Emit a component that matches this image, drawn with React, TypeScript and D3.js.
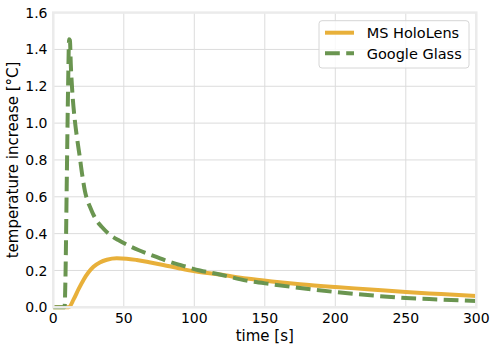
import React from "react";
import * as d3 from "d3";

// MS HoloLens (solid orange)
const holoTime = [0, 11, 14.4, 18, 21.5, 25, 28.5, 33, 38, 45, 52, 59.2, 68, 78, 89, 100.5, 118, 137, 155, 175, 200, 225, 250, 275, 300];
const holoTemp = [0, 0, 0.043, 0.1, 0.15, 0.19, 0.22, 0.243, 0.258, 0.266, 0.264, 0.257, 0.245, 0.23, 0.212, 0.195, 0.178, 0.156, 0.14, 0.125, 0.11, 0.097, 0.083, 0.072, 0.061];

// Google Glass (dashed green)
const glassTime = [0, 8, 8.6, 9.5, 10.5, 11.2, 11.8, 12.4, 13.4, 15.2, 17, 18.7, 20.5, 22.5, 24.2, 26, 28, 30, 34.3, 40, 46.1, 53, 60.3, 68, 75.7, 82, 89.9, 104, 118, 137, 155, 175, 200, 225, 250, 275, 300];
const glassTemp = [0, 0, 0.15, 0.65, 1.2, 1.455, 1.45, 1.32, 1.18, 1.02, 0.91, 0.82, 0.72, 0.628, 0.58, 0.546, 0.51, 0.48, 0.437, 0.395, 0.365, 0.337, 0.311, 0.288, 0.266, 0.248, 0.23, 0.2, 0.178, 0.145, 0.125, 0.105, 0.083, 0.065, 0.05, 0.042, 0.034];

const xTicks = [0, 50, 100, 150, 200, 250, 300];
const yTicks = [0, 0.2, 0.4, 0.6, 0.8, 1.0, 1.2, 1.4, 1.6];

const seriesNames = ["MS HoloLens", "Google Glass"];
const colors = ["#e8b03a", "#6a9550"];

const width = 498;
const height = 353;
const plot = { left: 53.3, right: 476.3, top: 12.6, bottom: 307.3 };
const font = "DejaVu Sans, sans-serif";

export default function App() {
  const x = d3.scaleLinear().domain([0, 300]).range([plot.left, plot.right]);
  const y = d3.scaleLinear().domain([0, 1.6]).range([plot.bottom, plot.top]);

  const line = d3
    .line<[number, number]>()
    .x((d) => x(d[0]))
    .y((d) => y(d[1]))
    .curve(d3.curveMonotoneX);

  const holo = holoTime.map((t, i) => [t, holoTemp[i]] as [number, number]);
  const glass = glassTime.map((t, i) => [t, glassTemp[i]] as [number, number]);

  const legendX = 319;
  const legendY = 20.7;

  return (
    <svg
      width={width}
      height={height}
      style={{ position: "absolute", left: 0, top: 0, background: "#fff" }}
      fontFamily={font}
    >
      {/* grid */}
      <g stroke="#dcdcdc" strokeWidth={1}>
        {xTicks.map((t) => (
          <line key={"gx" + t} x1={x(t)} x2={x(t)} y1={plot.top} y2={plot.bottom} />
        ))}
        {yTicks.map((t) => (
          <line key={"gy" + t} x1={plot.left} x2={plot.right} y1={y(t)} y2={y(t)} />
        ))}
      </g>

      {/* series */}
      <path d={line(holo) ?? ""} fill="none" stroke={colors[0]} strokeWidth={4} />
      <path
        d={line(glass) ?? ""}
        fill="none"
        stroke={colors[1]}
        strokeWidth={4}
        strokeDasharray="14.8 6.4"
      />

      {/* frame */}
      <rect
        x={plot.left}
        y={plot.top}
        width={plot.right - plot.left}
        height={plot.bottom - plot.top}
        fill="none"
        stroke="#ebebeb"
        strokeWidth={2.5}
      />

      {/* tick labels */}
      <g fontSize={14} fill="#000">
        {xTicks.map((t) => (
          <text key={"tx" + t} x={x(t)} y={323} textAnchor="middle">
            {t}
          </text>
        ))}
        {yTicks.map((t) => (
          <text key={"ty" + t} x={47.5} y={y(t)} dy="0.36em" textAnchor="end">
            {t.toFixed(1)}
          </text>
        ))}
      </g>

      {/* axis labels */}
      <text x={(plot.left + plot.right) / 2} y={341} textAnchor="middle" fontSize={15}>
        time [s]
      </text>
      <text
        transform={`translate(18, ${(plot.top + plot.bottom) / 2}) rotate(-90)`}
        textAnchor="middle"
        fontSize={15}
      >
        temperature increase [°C]
      </text>

      {/* legend */}
      <rect
        x={legendX}
        y={legendY}
        width={150}
        height={47.3}
        rx={3}
        fill="#fff"
        fillOpacity={0.8}
        stroke="#d6d6d6"
        strokeWidth={1}
      />
      {seriesNames.map((name, i) => {
        const ly = legendY + 12 + i * 20.6;
        return (
          <g key={name}>
            <line
              x1={legendX + 6}
              x2={legendX + 35}
              y1={ly}
              y2={ly}
              stroke={colors[i]}
              strokeWidth={4}
              strokeDasharray={i === 1 ? "14.8 6.4" : undefined}
            />
            <text x={legendX + 47.7} y={ly} dy="0.36em" fontSize={14.5}>
              {name}
            </text>
          </g>
        );
      })}
    </svg>
  );
}
